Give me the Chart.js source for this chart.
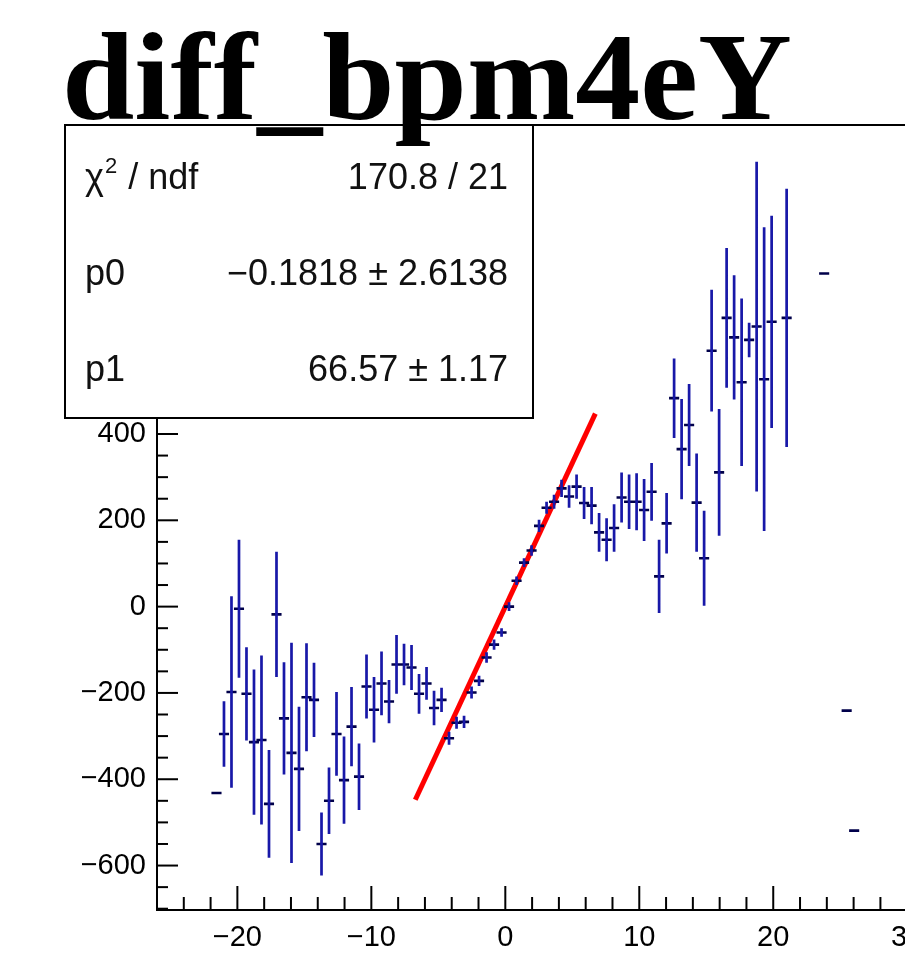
<!DOCTYPE html>
<html><head><meta charset="utf-8">
<script src="https://cdn.jsdelivr.net/npm/chart.js@4/dist/chart.umd.min.js"></script>
<style>
html,body{margin:0;padding:0;overflow:hidden;background:#fff;width:905px;height:966px;}
#wrap{width:905px;height:966px;overflow:hidden;position:relative;background:#fff;}
canvas{display:block;}
</style></head><body>
<div id="wrap"><canvas id="c" width="1000" height="966"></canvas></div>
<script>
// ---- data ----
const binX = [-21.56,-21.00,-20.44,-19.88,-19.32,-18.76,-18.20,-17.64,-17.08,-16.52,-15.96,-15.40,-14.84,-14.28,-13.72,-13.16,-12.60,-12.04,-11.48,-10.92,-10.36,-9.80,-9.24,-8.68,-8.12,-7.56,-7.00,-6.44,-5.88,-5.32,-4.76,-4.20,-3.64,-3.08,-2.52,-1.96,-1.40,-0.84,-0.28,0.28,0.84,1.40,1.96,2.52,3.08,3.64,4.20,4.76,5.32,5.88,6.44,7.00,7.56,8.12,8.68,9.24,9.80,10.36,10.92,11.48,12.04,12.60,13.16,13.72,14.28,14.84,15.40,15.96,16.52,17.08,17.64,18.20,18.76,19.32,19.88,21.00,23.80,25.48,26.04];
const meanY = [-432,-295,-198,-5,-202,-314,-309,-457,-18,-259,-339,-376,-210,-216,-550,-450,-295,-402,-278,-394,-185,-239,-178,-220,-134,-134,-141,-202,-178,-235,-216,-305,-269,-267,-199,-172,-118,-88,-60,0,60,102,130,187,229,243,274,255,278,240,234,172,155,182,253,243,243,224,266,70,193,483,365,421,241,112,593,311,669,624,520,618,649,527,660,669,772,-241,-519];
const errY  = [0,76,222,160,108,168,196,125,145,130,255,144,125,86,73,77,97,101,92,77,74,76,74,50,68,48,52,46,38,40,28,15,14,14,14,12,12,12,10,10,10,10,12,14,14,16,20,26,28,37,43,45,50,55,58,63,66,72,67,85,70,92,116,95,114,110,141,147,162,144,194,40,382,352,246,299,0,0,0];
const binWidth = 0.56;
const fitX = [-6.72, 6.72];
const fitY = [-447.5, 447.2];
const xTickLabels = [-20, -10, 0, 10, 20, 30];
const yTickLabels = [-600, -400, -200, 0, 200, 400, 600, 800, 1000];
const titleText = 'diff_bpm4eY';
const statsRows = [['χ', '170.8 / 21'], ['p0', '\u22120.1818 \u00b1 2.6138'], ['p1', '66.57 \u00b1 1.17']];

// ---- axis setup ----
const X_MIN = -26, X_MAX = 32, X_STEP = 2;
const Y_MIN = -703, Y_MAX = 1116, Y_STEP = 50;
const xTickValues = []; for (let v = X_MIN; v <= X_MAX + 1e-9; v += X_STEP) xTickValues.push(Math.round(v));
const yTickValues = []; for (let v = -700; v <= Y_MAX; v += Y_STEP) yTickValues.push(v);
const fmt = v => v < 0 ? '\u2212' + Math.abs(v) : String(v);

const vertPts = [], horPts = [];
binX.forEach((x, i) => {
  const y = meanY[i], e = errY[i];
  if (e > 0) { vertPts.push({x, y: y - e}, {x, y: y + e}, {x, y: null}); }
  horPts.push({x: x - binWidth / 2, y}, {x: x + binWidth / 2, y}, {x, y: null});
});
const fitPts = fitX.map((x, i) => ({x, y: fitY[i]}));

const labelFont = {family: '"Liberation Sans", Arial, sans-serif', size: 29};

const rootPlugin = {
  id: 'rootStyle',
  afterDraw(chart) {
    const {ctx, chartArea: a, scales: {x, y}} = chart;
    ctx.save();
    ctx.strokeStyle = '#000';
    ctx.lineWidth = 2;
    ctx.lineCap = 'butt';
    x.ticks.forEach(t => {
      const v = t.value, px = x.getPixelForValue(v);
      const len = xTickLabels.includes(v) ? 24 : 13;
      ctx.beginPath(); ctx.moveTo(px, a.bottom); ctx.lineTo(px, a.bottom - len); ctx.stroke();
    });
    y.ticks.forEach(t => {
      const v = t.value, py = y.getPixelForValue(v);
      const len = yTickLabels.includes(v) ? 21 : 11;
      ctx.beginPath(); ctx.moveTo(a.left, py); ctx.lineTo(a.left + len, py); ctx.stroke();
    });
    ctx.strokeRect(a.left, a.top, a.right - a.left, a.bottom - a.top);

    // stats box
    const bx = 65, by = 125, bw = 468, bh = 293;
    ctx.fillStyle = '#fff';
    ctx.fillRect(bx, by, bw, bh);
    ctx.strokeRect(bx, by, bw, bh);
    ctx.fillStyle = '#111';
    const sf = '"Liberation Sans", Arial, sans-serif';
    const fs = 36;
    const base = [189, 285, 381];
    statsRows.forEach((r, i) => {
      ctx.textBaseline = 'alphabetic';
      ctx.textAlign = 'left';
      ctx.font = `${fs}px ${sf}`;
      ctx.fillText(r[0], 85, base[i]);
      if (i === 0) {
        const w = ctx.measureText(r[0]).width;
        ctx.font = `22px ${sf}`;
        ctx.fillText('2', 85 + w + 1, base[i] - 16);
        const w2 = ctx.measureText('2').width;
        ctx.font = `${fs}px ${sf}`;
        ctx.fillText(' / ndf', 85 + w + w2 + 2, base[i]);
      }
      ctx.textAlign = 'right';
      ctx.font = `${fs}px ${sf}`;
      ctx.fillText(r[1], 508, base[i]);
    });

    // title (stretched horizontally to the reference width)
    ctx.fillStyle = '#000';
    ctx.textAlign = 'left';
    ctx.textBaseline = 'alphabetic';
    ctx.font = 'bold 124px "Liberation Serif", "Times New Roman", serif';
    const tw = ctx.measureText(titleText).width;
    const sx = 730 / tw;
    ctx.translate(62, 119);
    ctx.scale(sx, 1);
    ctx.fillText(titleText, 0, 0);
    ctx.restore();
  }
};

new Chart(document.getElementById('c'), {
  type: 'scatter',
  data: {
    datasets: [
      {data: vertPts, showLine: true, borderColor: '#1818a8', borderWidth: 2.7, pointRadius: 0, spanGaps: false, borderCapStyle: 'butt'},
      {data: horPts, showLine: true, borderColor: '#00004a', borderWidth: 2.6, pointRadius: 0, spanGaps: false, borderCapStyle: 'square'},
      {data: fitPts, showLine: true, borderColor: '#ff0000', borderWidth: 5, pointRadius: 0}
    ]
  },
  options: {
    responsive: false,
    animation: false,
    devicePixelRatio: 1,
    events: [],
    layout: {padding: {left: 0, top: 125, right: 66, bottom: 0}},
    plugins: {legend: {display: false}, tooltip: {enabled: false}, title: {display: false}},
    scales: {
      x: {
        type: 'linear', min: X_MIN, max: X_MAX,
        grid: {display: false}, border: {display: false},
        afterBuildTicks: s => { s.ticks = xTickValues.map(v => ({value: v})); },
        afterFit: s => { s.height = 56; },
        ticks: {autoSkip: false, maxRotation: 0, minRotation: 0, padding: 3, color: '#000', font: labelFont,
          callback: v => xTickLabels.includes(v) ? fmt(v) : ''}
      },
      y: {
        type: 'linear', min: Y_MIN, max: Y_MAX,
        grid: {display: false}, border: {display: false},
        afterBuildTicks: s => { s.ticks = yTickValues.map(v => ({value: v})); },
        afterFit: s => { s.width = 157; },
        ticks: {autoSkip: false, padding: 3, color: '#000', font: labelFont,
          callback: v => yTickLabels.includes(v) ? fmt(v) : ''}
      }
    }
  },
  plugins: [rootPlugin]
});
</script>
</body></html>
